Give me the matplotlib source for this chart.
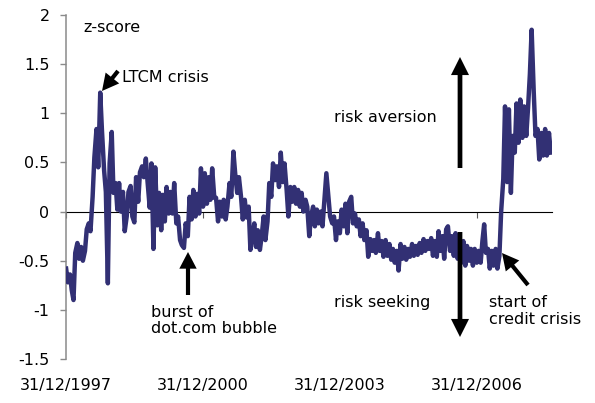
import matplotlib
matplotlib.use('Agg')
import matplotlib.pyplot as plt
import matplotlib.dates as mdates
import numpy as np
import pandas as pd

plt.rcParams['font.family'] = ['DejaVu Sans']
plt.rcParams['axes.unicode_minus'] = False

# semi-monthly z-score readings, starting January 1998
z_score = [
    -0.58, -0.72, -0.64, -0.80, -0.90, -0.42, -0.32, -0.48, -0.36, -0.50,
    -0.40, -0.18, -0.12, -0.20, 0.15, 0.55, 0.84, 0.45, 1.21, 0.82,
    0.42, 0.20, -0.73, 0.49, 0.81, 0.19, 0.29, 0.02, 0.29, 0.00,
    0.20, -0.20, -0.05, 0.20, 0.26, -0.05, -0.11, 0.35, 0.10, 0.40,
    0.46, 0.35, 0.54, 0.30, 0.04, 0.49, -0.38, 0.45, -0.14, 0.19,
    -0.19, 0.17, -0.10, 0.25, -0.02, 0.20, -0.02, 0.29, -0.12, -0.05,
    -0.29, -0.34, -0.37, -0.12, -0.25, 0.15, -0.08, 0.22, -0.05, 0.18,
    -0.02, 0.44, 0.05, 0.39, 0.08, 0.35, 0.12, 0.44, 0.14, 0.14,
    -0.10, 0.10, -0.05, 0.12, -0.08, 0.05, 0.29, 0.15, 0.61, 0.39,
    0.19, 0.35, 0.15, -0.08, 0.12, -0.06, 0.05, -0.39, -0.25, -0.12,
    -0.36, -0.19, -0.39, -0.25, -0.05, -0.29, -0.10, 0.29, 0.15, 0.49,
    0.32, 0.46, 0.25, 0.60, 0.30, 0.49, 0.22, -0.05, 0.25, 0.10,
    0.25, 0.08, 0.22, 0.05, 0.19, 0.00, 0.12, 0.05, -0.25, -0.05,
    0.05, -0.15, 0.02, -0.12, 0.00, -0.15, 0.15, 0.39, 0.15, -0.05,
    -0.12, -0.05, -0.29, -0.10, -0.22, 0.02, -0.15, 0.08, -0.22, 0.10,
    0.15, -0.12, -0.02, -0.15, -0.08, -0.25, -0.12, -0.29, -0.19, -0.46,
    -0.28, -0.40, -0.29, -0.42, -0.22, -0.40, -0.30, -0.46, -0.29, -0.45,
    -0.33, -0.49, -0.38, -0.52, -0.40, -0.60, -0.33, -0.48, -0.36, -0.49,
    -0.38, -0.46, -0.33, -0.45, -0.35, -0.44, -0.32, -0.42, -0.28, -0.40,
    -0.30, -0.38, -0.27, -0.45, -0.30, -0.46, -0.20, -0.40, -0.25, -0.48,
    -0.18, -0.15, -0.40, -0.25, -0.45, -0.22, -0.48, -0.30, -0.52, -0.30,
    -0.55, -0.35, -0.50, -0.38, -0.55, -0.38, -0.52, -0.40, -0.52, -0.30,
    -0.13, -0.42, -0.38, -0.58, -0.40, -0.55, -0.38, -0.58, -0.45, 0.00,
    0.33, 1.07, 0.30, 1.04, 0.19, 0.77, 0.60, 1.10, 0.70, 1.14,
    0.75, 1.07, 0.77, 1.05, 1.40, 1.85, 1.21, 0.77, 0.84, 0.53,
    0.80, 0.57, 0.84, 0.57, 0.80, 0.60,
]
dates = pd.date_range('1998-01-01', periods=len(z_score), freq='SMS')

tick_dates = ['1997-12-31', '2000-12-31', '2003-12-31', '2006-12-31']
tick_labels = ['31/12/1997', '31/12/2000', '31/12/2003', '31/12/2006']
y_ticks = [-1.5, -1, -0.5, 0, 0.5, 1, 1.5, 2]

W, H = 595, 403
fig = plt.figure(figsize=(W / 100, H / 100), dpi=100)
ax = fig.add_axes([66 / W, 1 - 359 / H, (552 - 66) / W, (359 - 15) / H])

ax.plot(dates, z_score, color='#323074', lw=3.2, zorder=3)

ax.set_ylim(-1.5, 2)
ax.set_xlim(pd.Timestamp('1997-12-31'), pd.Timestamp('2008-08-25'))
ax.set_yticks(y_ticks)
ax.set_yticklabels([f'{v:g}' for v in y_ticks])

for s in ['top', 'right']:
    ax.spines[s].set_visible(False)
ax.spines['left'].set_color('#8a8a8a')
ax.spines['left'].set_linewidth(1.1)
ax.spines['bottom'].set_position(('data', 0))
ax.spines['bottom'].set_color('black')
ax.spines['bottom'].set_linewidth(0.8)
ax.spines['bottom'].set_zorder(2)

tick_nums = mdates.date2num(pd.to_datetime(tick_dates))
ax.set_xticks(tick_nums)
ax.tick_params(axis='x', direction='out', length=4, width=0.8, color='#555555',
               labelbottom=False)
ax.tick_params(axis='y', direction='out', length=4.3, width=1.0, color='#8a8a8a',
               labelsize=11.5, pad=7.5)

sec = ax.secondary_xaxis('bottom')
sec.spines['bottom'].set_visible(False)
sec.set_xticks(tick_nums)
sec.set_xticklabels(tick_labels)
sec.tick_params(length=0, pad=13.5, labelsize=11.5)

def fp(px, py):
    return (px, H - py)

def txt(px, py, s):
    fig.text(px / W, 1 - py / H, s, fontsize=11.5, ha='left', va='baseline')

txt(83, 32, 'z-score')
txt(122, 82, 'LTCM crisis')
txt(334, 122, 'risk aversion')
txt(151, 317, 'burst of')
txt(151, 333, 'dot.com bubble')
txt(334, 307, 'risk seeking')
txt(489, 307, 'start of')
txt(489, 324, 'credit crisis')

big = dict(arrowstyle='simple,head_length=13,head_width=13,tail_width=3.4',
           color='black', lw=0, shrinkA=0, shrinkB=0, mutation_scale=1)
mid = dict(arrowstyle='simple,head_length=12,head_width=12.5,tail_width=3.0',
           color='black', lw=0, shrinkA=0, shrinkB=0, mutation_scale=1)

ax.annotate('', xy=fp(460, 57), xytext=fp(460, 168), xycoords='figure pixels',
            textcoords='figure pixels', arrowprops=big)
ax.annotate('', xy=fp(460, 337), xytext=fp(460, 232), xycoords='figure pixels',
            textcoords='figure pixels', arrowprops=big)
ax.annotate('', xy=fp(188, 252), xytext=fp(188, 295), xycoords='figure pixels',
            textcoords='figure pixels', arrowprops=mid)
ax.annotate('', xy=fp(102, 91), xytext=fp(118, 71), xycoords='figure pixels',
            textcoords='figure pixels', arrowprops=mid)
ax.annotate('', xy=fp(502, 253), xytext=fp(528, 285), xycoords='figure pixels',
            textcoords='figure pixels', arrowprops=mid)

fig.savefig('out.png', dpi=100)
